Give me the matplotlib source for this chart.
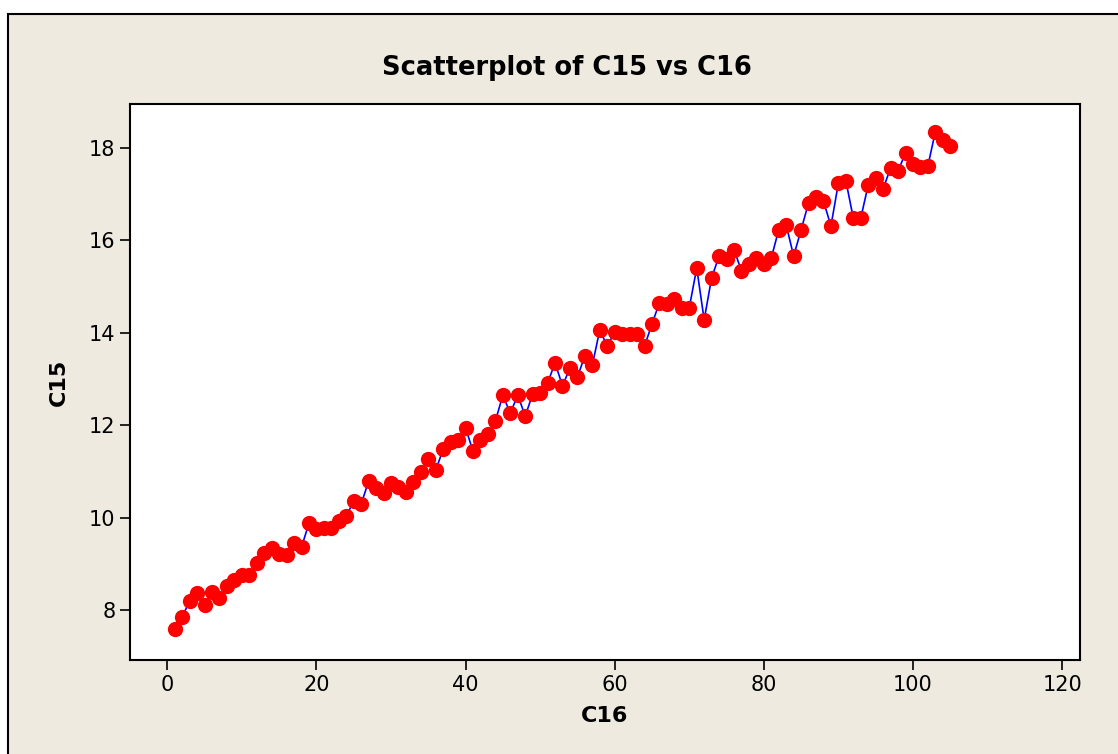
import matplotlib.pyplot as plt
from matplotlib.patches import Rectangle

c16 = list(range(1, 106))
c15 = [7.60, 7.85, 8.20, 8.37, 8.10, 8.40, 8.26, 8.52, 8.65, 8.76,
       8.76, 9.02, 9.23, 9.34, 9.21, 9.19, 9.45, 9.36, 9.88, 9.75,
       9.78, 9.78, 9.93, 10.03, 10.36, 10.29, 10.79, 10.64, 10.53, 10.75,
       10.66, 10.55, 10.77, 10.99, 11.27, 11.03, 11.48, 11.64, 11.68, 11.94,
       11.44, 11.68, 11.81, 12.09, 12.65, 12.26, 12.65, 12.20, 12.67, 12.70,
       12.91, 13.35, 12.85, 13.24, 13.04, 13.50, 13.30, 14.06, 13.71, 14.02,
       13.97, 13.97, 13.97, 13.71, 14.19, 14.65, 14.62, 14.73, 14.54, 14.54,
       15.40, 14.28, 15.19, 15.66, 15.60, 15.80, 15.34, 15.49, 15.62, 15.49,
       15.62, 16.23, 16.33, 15.66, 16.23, 16.81, 16.94, 16.85, 16.31, 17.24,
       17.29, 16.48, 16.48, 17.20, 17.35, 17.11, 17.57, 17.50, 17.89, 17.65,
       17.59, 17.61, 18.35, 18.17, 18.04]

xticks = [0, 20, 40, 60, 80, 100, 120]
yticks = [8, 10, 12, 14, 16, 18]

fig = plt.figure(figsize=(11.18, 7.54), dpi=100, facecolor='white')
# beige outer frame, behind the axes
fig.patches.append(Rectangle((8/1118, -0.05), 1.2, 1 - 14/754 + 0.05,
                             transform=fig.transFigure, facecolor='#EEEAE0',
                             edgecolor='black', linewidth=1.5, zorder=-10))

ax = fig.add_axes([130/1118, 1 - 660/754, 950/1118, 556/754])
ax.set_facecolor('white')
ax.plot(c16, c15, color='blue', linewidth=1.2, zorder=2)
ax.plot(c16, c15, 'o', color='red', markersize=11, markeredgewidth=0, zorder=3)

ax.set_xlim(-5, 122.4)
ax.set_ylim(6.92, 18.95)
ax.set_xticks(xticks)
ax.set_yticks(yticks)
ax.tick_params(direction='out', length=7, width=1.2, labelsize=15, color='black')
for s in ax.spines.values():
    s.set_linewidth(1.5)
    s.set_color('black')

ax.set_xlabel('C16', fontsize=16, fontweight='bold', labelpad=8)
ax.set_ylabel('C15', fontsize=16, fontweight='bold', labelpad=14)
fig.text(567/1118, 1 - 68/754, 'Scatterplot of C15 vs C16', ha='center', va='center',
         fontsize=18.5, fontweight='bold')

fig.savefig('out.png', dpi=100, facecolor=fig.get_facecolor())
